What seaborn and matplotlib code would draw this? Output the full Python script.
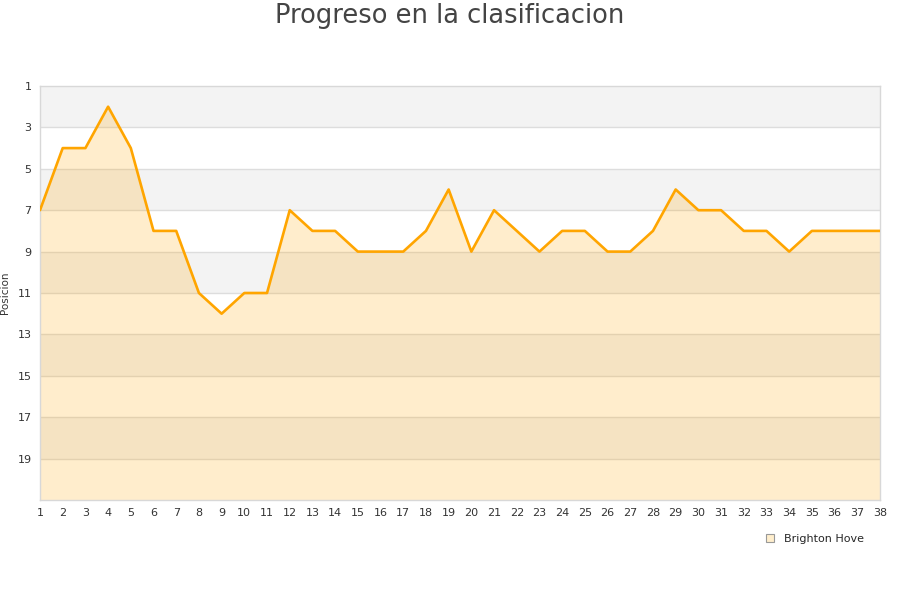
import numpy as np
import pandas as pd
import seaborn as sns
import matplotlib
matplotlib.use("Agg")
import matplotlib.pyplot as plt

jornadas = list(range(1, 39))
posicion = [7, 4, 4, 2, 4, 8, 8, 11, 12, 11, 11, 7, 8, 8, 9, 9, 9, 8, 6, 9,
            7, 8, 9, 8, 8, 9, 9, 8, 6, 7, 7, 8, 8, 9, 8, 8, 8, 8]
equipo = "Brighton Hove"
y_ticks = list(range(1, 21, 2))

df = pd.DataFrame({"Jornada": jornadas, "Posicion": posicion})

sns.set_theme(style="white")
plt.rcParams['font.family'] = ['DejaVu Sans']

fig = plt.figure(figsize=(9, 6), dpi=100)
ax = fig.add_axes([40 / 900, 100 / 600, 840 / 900, 414 / 600])

# alternating bands
for i, y0 in enumerate(range(1, 21, 2)):
    if i % 2 == 0:
        ax.axhspan(y0, y0 + 2, color="#f3f3f3", zorder=0, lw=0)
for y in y_ticks[1:]:
    ax.axhline(y, color="#dddddd", lw=1, zorder=1)

orange = "#ffa500"
ax.fill_between(df["Jornada"], df["Posicion"], 21, color=orange, alpha=0.2, lw=0, zorder=2)
sns.lineplot(data=df, x="Jornada", y="Posicion", color=orange, linewidth=1.9, ax=ax, zorder=3)

ax.set_xlim(1, 38)
ax.set_ylim(21, 1)
ax.set_xticks(jornadas)
ax.set_yticks(y_ticks)
ax.tick_params(axis="both", labelsize=8, colors="#333333", length=0, pad=6)
ax.set_xlabel("")
ax.set_ylabel("Posicion", fontsize=7.5, color="#333333")
ax.yaxis.set_label_coords(-0.036, 0.5)
for s in ax.spines.values():
    s.set_color("#d8d8d8")
    s.set_linewidth(1)

fig.suptitle("Progreso en la clasificacion", y=0.995, fontsize=18.5, color="#444444")

fig.legend(handles=[plt.Rectangle((0, 0), 1, 1, facecolor="#ffeecc", edgecolor="#999999", lw=0.8)],
           labels=[equipo], loc="center", bbox_to_anchor=(815 / 900, 1 - 539 / 600),
           frameon=False, fontsize=8, handlelength=0.7, handleheight=0.7, handletextpad=0.9)

fig.savefig("out.png", dpi=100)
